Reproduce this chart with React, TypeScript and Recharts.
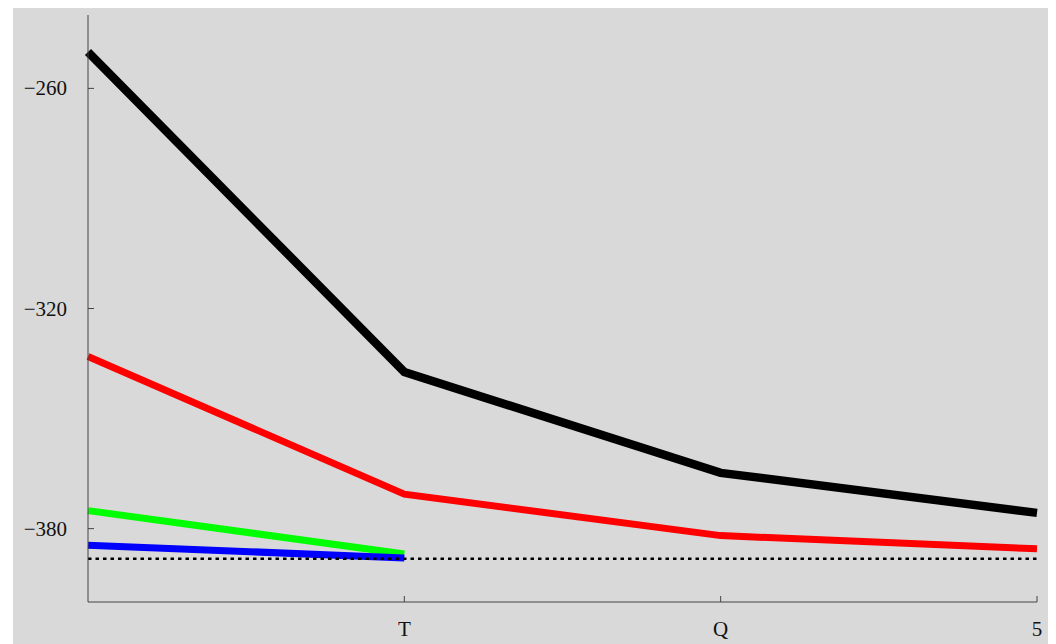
import React from 'react';
import { LineChart, Line, XAxis, YAxis, ReferenceLine } from 'recharts';

const categories = ['', 'T', 'Q', '5'];
const blackValues = [-250.1, -337.3, -364.8, -375.7];
const redValues = [-333.1, -370.6, -381.9, -385.5];
const greenValues = [-375.1, -386.9, null, null];
const blueValues = [-384.5, -388.0, null, null];
const yTicks = [-380, -320, -260];
const baseline = -388.2;

const data = categories.map((c, i) => ({
  cat: c,
  black: blackValues[i],
  red: redValues[i],
  green: greenValues[i],
  blue: blueValues[i],
}));

const axisColor = '#444';
const font = '"Liberation Serif", "DejaVu Serif", serif';

const fmt = (v: number) => (v < 0 ? '\u2212' + Math.abs(v) : String(v));

function YTick(props: any) {
  const { x, y, payload } = props;
  return (
    <g>
      <line x1={x} y1={y} x2={x + 6} y2={y} stroke={axisColor} strokeWidth={1} />
      <text x={x - 21} y={y} dy={7} textAnchor="end" fontFamily={font} fontSize={21} fill="#111">
        {fmt(payload.value)}
      </text>
    </g>
  );
}

function XTick(props: any) {
  const { x, y, payload } = props;
  if (!payload.value) return null;
  return (
    <g>
      <line x1={x} y1={y} x2={x} y2={y - 6} stroke={axisColor} strokeWidth={1} />
      <text x={x} y={y + 34} textAnchor="middle" fontFamily={font} fontSize={21} fill="#111">
        {payload.value}
      </text>
    </g>
  );
}

export default function App() {
  return (
    <div style={{ marginLeft: 5, width: 1037, height: 636, background: '#d9d9d9' }}>
      <LineChart width={1037} height={636} data={data} margin={{ top: 7, right: 13, left: 0, bottom: 0 }}>
        <XAxis
          dataKey="cat"
          height={42}
          stroke={axisColor}
          tickLine={false}
          tickSize={0}
          tickMargin={0}
          tick={<XTick />}
          interval={0}
        />
        <YAxis
          type="number"
          domain={[-400, -240]}
          ticks={yTicks}
          width={75}
          stroke={axisColor}
          tickLine={false}
          tickSize={0}
          tickMargin={0}
          tick={<YTick />}
          allowDataOverflow
        />
        <Line dataKey="black" stroke="#000" strokeWidth={8.5} dot={false} isAnimationActive={false} />
        <Line dataKey="red" stroke="#ff0000" strokeWidth={7} dot={false} isAnimationActive={false} />
        <Line dataKey="green" stroke="#00ff00" strokeWidth={7} dot={false} isAnimationActive={false} />
        <Line dataKey="blue" stroke="#0000ff" strokeWidth={7} dot={false} isAnimationActive={false} />
        <ReferenceLine y={baseline} stroke="#000" strokeWidth={2.5} strokeDasharray="3.5 4" />
      </LineChart>
    </div>
  );
}
